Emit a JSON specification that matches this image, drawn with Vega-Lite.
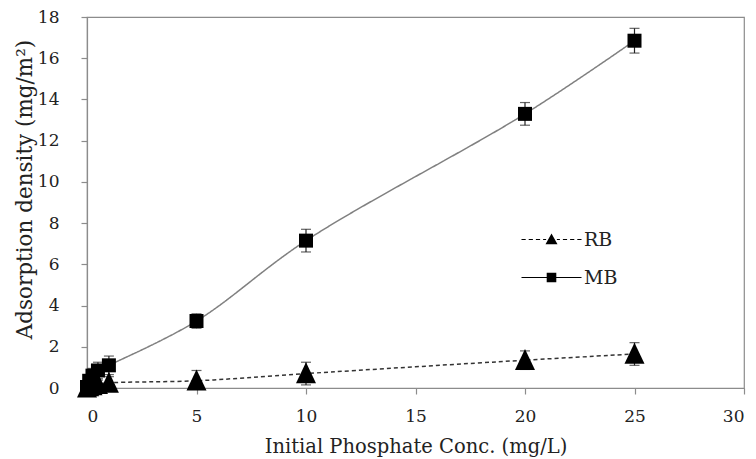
{
  "$schema": "https://vega.github.io/schema/vega-lite/v6.json",
  "width": 657,
  "height": 371,
  "autosize": {"type": "none"},
  "padding": {"left": 87, "top": 17, "right": 12, "bottom": 71},
  "background": "white",
  "config": {
    "view": {"stroke": "#8c8c8c", "strokeWidth": 1.2},
    "font": "DejaVu Serif",
    "axis": {
      "labelFont": "DejaVu Serif",
      "titleFont": "DejaVu Serif",
      "labelFontSize": 17,
      "titleFontSize": 19.5,
      "titleFontWeight": "normal",
      "labelColor": "#222",
      "titleColor": "#222",
      "domainColor": "#8c8c8c",
      "tickColor": "#8c8c8c",
      "domainWidth": 1.2,
      "tickWidth": 1.2,
      "tickSize": 6,
      "grid": false
    }
  },
  "data": {
    "values": [
      {"series": "MB", "x": 0, "y": 0.05, "lo": 0, "hi": 0.1},
      {"series": "MB", "x": 0.1, "y": 0.35, "lo": 0.05, "hi": 0.65},
      {"series": "MB", "x": 0.25, "y": 0.6, "lo": 0.25, "hi": 0.95},
      {"series": "MB", "x": 0.5, "y": 0.85, "lo": 0.45, "hi": 1.25},
      {"series": "MB", "x": 1, "y": 1.1, "lo": 0.65, "hi": 1.55},
      {"series": "MB", "x": 5, "y": 3.25, "lo": 2.9, "hi": 3.6},
      {"series": "MB", "x": 10, "y": 7.15, "lo": 6.6, "hi": 7.7},
      {"series": "MB", "x": 20, "y": 13.3, "lo": 12.75, "hi": 13.85},
      {"series": "MB", "x": 25, "y": 16.85, "lo": 16.25, "hi": 17.45},
      {"series": "RB", "x": 0, "y": 0.02, "lo": 0, "hi": 0.04},
      {"series": "RB", "x": 0.1, "y": 0.08, "lo": 0, "hi": 0.18},
      {"series": "RB", "x": 0.25, "y": 0.12, "lo": 0, "hi": 0.27},
      {"series": "RB", "x": 0.5, "y": 0.18, "lo": 0, "hi": 0.38},
      {"series": "RB", "x": 1, "y": 0.25, "lo": 0, "hi": 0.55},
      {"series": "RB", "x": 5, "y": 0.35, "lo": 0, "hi": 0.85},
      {"series": "RB", "x": 10, "y": 0.7, "lo": 0.15, "hi": 1.25},
      {"series": "RB", "x": 20, "y": 1.35, "lo": 0.9, "hi": 1.8},
      {"series": "RB", "x": 25, "y": 1.65, "lo": 1.1, "hi": 2.2}
    ]
  },
  "encoding": {
    "x": {
      "field": "x",
      "type": "quantitative",
      "scale": {"domain": [0, 30], "nice": false, "zero": false},
      "axis": {
        "title": "Initial Phosphate Conc. (mg/L)",
        "values": [0, 5, 10, 15, 20, 25, 30],
        "labelPadding": 14,
        "titleBaseline": "middle",
        "titleY": 58
      }
    }
  },
  "layer": [
    {
      "mark": {"type": "line", "interpolate": "catmull-rom", "strokeWidth": 1.5},
      "encoding": {
        "y": {
          "field": "y",
          "type": "quantitative",
          "scale": {"domain": [0, 18], "nice": false},
          "axis": {
            "title": "Adsorption density (mg/m²)",
            "values": [0, 2, 4, 6, 8, 10, 12, 14, 16, 18],
            "labelPadding": 22,
            "titleFontSize": 21.5,
            "titleBaseline": "middle",
            "titleX": -62,
            "titleY": 172
          }
        },
        "color": {
          "field": "series",
          "type": "nominal",
          "scale": {"domain": ["RB", "MB"], "range": ["#333333", "#808080"]},
          "legend": null
        },
        "strokeDash": {
          "field": "series",
          "type": "nominal",
          "scale": {"domain": ["RB", "MB"], "range": [[4, 3], [1, 0]]},
          "legend": null
        }
      }
    },
    {
      "mark": {"type": "errorbar", "ticks": {"size": 10, "thickness": 1.2}, "color": "#222", "thickness": 1.2},
      "encoding": {
        "y": {"field": "lo", "type": "quantitative", "title": "Adsorption density (mg/m²)"},
        "y2": {"field": "hi"}
      }
    },
    {
      "mark": {"type": "point", "filled": true, "opacity": 1, "color": "black", "size": 196},
      "encoding": {
        "y": {"field": "y", "type": "quantitative"},
        "shape": {
          "field": "series",
          "type": "nominal",
          "scale": {"domain": ["RB", "MB"], "range": ["M0,-1.6L-1.43,1.4L1.43,1.4Z", "M-1,-1H1V1H-1Z"]},
          "legend": null
        }
      }
    },
    {
      "mark": {"type": "point", "filled": true, "color": "black", "opacity": 0, "size": 144},
      "encoding": {
        "y": {"field": "y", "type": "quantitative"},
        "shape": {
          "field": "series",
          "type": "nominal",
          "scale": {"domain": ["RB", "MB"], "range": [
            "M-5,-0.09H-4.3V0.09H-5ZM-3.8,-0.09H-3.1V0.09H-3.8ZM-2.6,-0.09H-1.9V0.09H-2.6ZM-1.4,-0.09H-0.9V0.09H-1.4ZM0.9,-0.09H1.4V0.09H0.9ZM1.9,-0.09H2.6V0.09H1.9ZM3.1,-0.09H3.8V0.09H3.1ZM4.3,-0.09H5V0.09H4.3ZM0,-1L-1,0.8L1,0.8Z",
            "M-5,-0.09H5V0.09H-5ZM-0.8,-0.8H0.8V0.8H-0.8Z"
          ]},
          "legend": {
            "title": null,
            "orient": "none",
            "legendX": 455,
            "legendY": 213,
            "padding": 0,
            "labelFont": "DejaVu Serif",
            "labelFontSize": 19,
            "labelColor": "#222",
            "labelOffset": 23,
            "rowPadding": 18,
            "symbolSize": 144,
            "symbolFillColor": "black",
            "symbolOpacity": 1
          }
        }
      }
    }
  ],
  "resolve": {"scale": {"shape": "independent"}}
}
